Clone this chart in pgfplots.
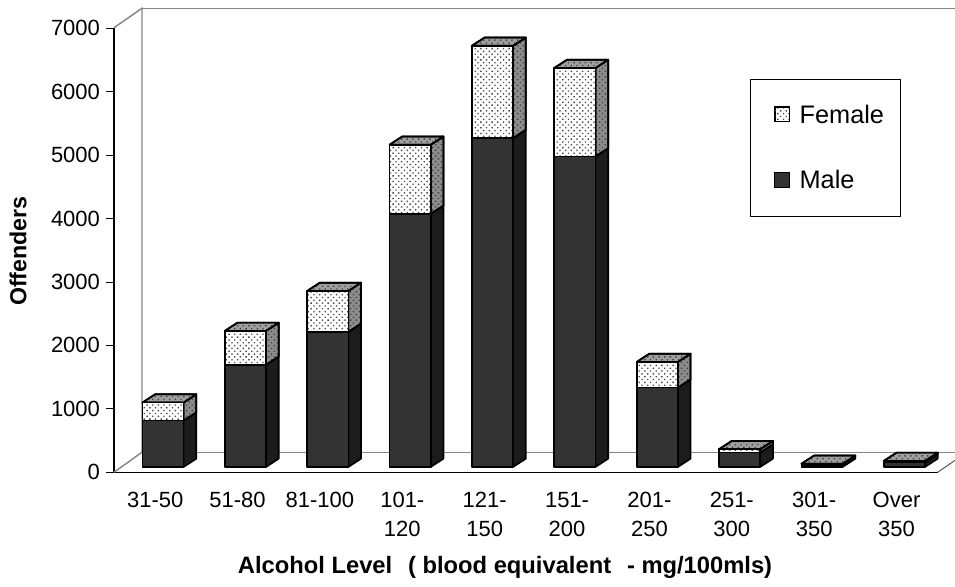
\documentclass[border=0pt]{standalone}
\usepackage{fontspec}
\setmainfont{Liberation Sans}
\usepackage{pgfplots}
\usepackage{pgfplotstable}
\usetikzlibrary{patterns.meta}
\pgfplotsset{compat=1.18}
\definecolor{maleF}{HTML}{333333}
\definecolor{maleS}{HTML}{1C1C1C}
\definecolor{wall}{HTML}{868686}
\pgfplotstableread{
pos male female
0.595 730 285
1.595 1610 535
2.595 2130 645
3.595 3990 1090
4.595 5185 1455
5.595 4895 1395
6.595 1250 405
7.595 225 55
8.595 30 20
9.595 70 25
}\bardata
\tikzset{
  fFront/.style={preaction={fill=white},pattern={Dots[radius=0.72pt,distance=3.0pt,angle=45]},pattern color=black!72},
  fSide/.style={preaction={fill=black!45},pattern={Dots[radius=0.72pt,distance=3.0pt,angle=45]},pattern color=black!75},
  fTop/.style={preaction={fill=black!38},pattern={Dots[radius=0.72pt,distance=3.0pt,angle=45]},pattern color=black!75},
  edge3d/.style={draw=black,line width=1.25pt,line join=round,yshift=4pt}
}
\pgfplotsset{sqlegend/.style={legend image code/.code={\path (-8pt,0) (16pt,0);\draw[##1,line width=0.9pt,yshift=-4pt] (0pt,-5pt) rectangle (11pt,6pt);}}}
\begin{document}
\begin{tikzpicture}[x=1pt,y=1pt]
\path[use as bounding box] (0,0) rectangle (716.25,439.5);
\begin{axis}[
  at={(85.5pt,85.3pt)},anchor=south west,
  scale only axis,width=617.8pt,height=333pt,
  xmin=0,xmax=10,ymin=0,ymax=7000,clip=false,
  axis x line*=bottom,axis y line*=left,
  axis line style={-,black,line width=0.9pt},
  ytick={0,1000,...,7000},
  xtick={0.5,1.5,...,9.5},
  xticklabels={\strut 31-50,\strut 51-80,\strut 81-100,\strut 101-\\120,\strut 121-\\150,\strut 151-\\200,\strut 201-\\250,\strut 251-\\300,\strut 301-\\350,\strut Over\\350},
  xticklabel style={align=center,font=\fontsize{16.5}{22}\selectfont,yshift=-1.5pt},
  yticklabel style={font=\fontsize{16.5}{18}\selectfont,xshift=-1pt},
  /pgf/number format/assume math mode=true,
  /pgf/number format/1000 sep={},
  tick style={black,line width=0.7pt},
  major tick length=6pt,
  x tick style={draw=none},
  tick align=outside,
  extra x ticks={0,1,...,10},
  extra x tick labels={},
  extra x tick style={tick style={black,line width=0.7pt},major tick length=6pt},
  ylabel={\textbf{Offenders}},
  ylabel style={font=\fontsize{17.4}{19}\selectfont,at={(axis description cs:-0.1165,0.498)},anchor=center},
  xlabel={\textbf{Alcohol Level\ \ \hspace{2pt}( blood equivalent\ \ \hspace{2pt}- mg/100mls)}},
  xlabel style={font=\fontsize{17.8}{19}\selectfont,anchor=base,at={(axis description cs:0.4747,0)},yshift=-76pt},
  reverse legend,
  legend style={at={(axis cs:7.715,6200)},anchor=north west,draw=black,line width=0.6pt,
    font=\fontsize{19}{21}\selectfont,
    row sep=30pt,inner xsep=10pt,inner ysep=17pt,
    legend cell align=left,
    /tikz/every even column/.style={column sep=2pt}},
]
% back wall
\draw[wall,line width=1.1pt] (axis cs:0,0) -- ++(21pt,15pt) -- ++(0,333pt) -- ++(-21pt,-14.6pt);
\draw[wall,line width=1.1pt] ([shift={(21pt,15pt)}]axis cs:0,0) -- ++(610pt,0);
\draw[wall,line width=1.1pt] ([shift={(21pt,348pt)}]axis cs:0,0) -- ++(610pt,0);
\draw[black!70,line width=0.7pt] (axis cs:10,0) -- ++(13pt,9pt);
% side and top faces of each bar
\pgfplotsforeachungrouped \i in {0,...,9}{
  \pgfplotstablegetelem{\i}{pos}\of\bardata \let\p\pgfplotsretval
  \pgfplotstablegetelem{\i}{male}\of\bardata \let\m\pgfplotsretval
  \pgfplotstablegetelem{\i}{female}\of\bardata \let\f\pgfplotsretval
  \pgfmathsetmacro\xl{\p-0.25}
  \pgfmathsetmacro\xr{\p+0.25}
  \pgfmathsetmacro\xlb{\xl+0.154}
  \pgfmathsetmacro\xrb{\xr+0.154}
  \pgfmathsetmacro\t{\m+\f}
  \pgfmathsetmacro\mb{\m+130}
  \pgfmathsetmacro\tb{\t+130}
  \edef\temp{\noexpand\addplot[forget plot,edge3d,fill=maleS] coordinates {(\xr,0)(\xrb,130)(\xrb,\mb)(\xr,\m)} --cycle;
  \noexpand\addplot[forget plot,edge3d,fSide] coordinates {(\xr,\m)(\xrb,\mb)(\xrb,\tb)(\xr,\t)} --cycle;
  \noexpand\addplot[forget plot,edge3d,fTop] coordinates {(\xl,\t)(\xlb,\tb)(\xrb,\tb)(\xr,\t)} --cycle;}
  \temp
}
\addplot[ybar stacked,bar width=0.5,edge3d,fill=maleF,sqlegend] table[x=pos,y=male] {\bardata};
\addlegendentry{Male}
\addplot[ybar stacked,bar width=0.5,edge3d,fFront,sqlegend] table[x=pos,y=female] {\bardata};
\addlegendentry{Female}
\end{axis}
\end{tikzpicture}
\end{document}
